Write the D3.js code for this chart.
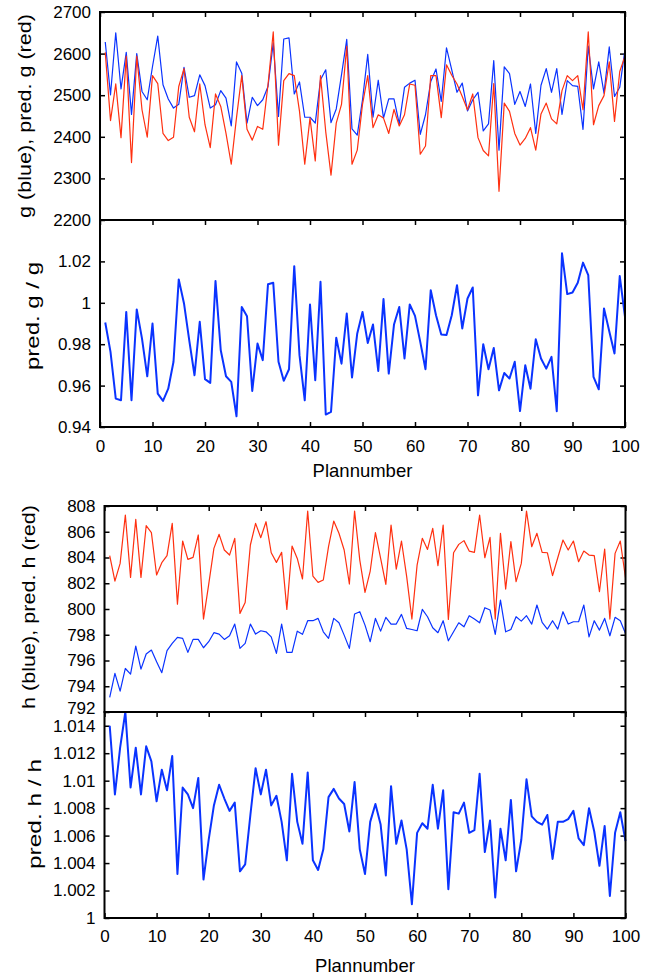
<html>
<head>
<script src="https://d3js.org/d3.v7.min.js"></script>
<style>
    body {
        margin: 0;
        background-color: white;
        font-family: Arial, "Liberation Sans", Helvetica, sans-serif;
    }
    .tick text { font-size: 17px; fill: black; }
    .tick line { stroke: black; stroke-width: 1.5; }
    .title { font-size: 18.5px; fill: black; }
    .ytitle { font-size: 19px; fill: black; }
</style>
</head>
<body>
<div id="chart"></div>
<script>
// plan numbers on the x axis
var plans = d3.range(1, 101);
var xTicks = [0, 10, 20, 30, 40, 50, 60, 70, 80, 90, 100];

// g (blue) and pred. g (red)
var gObs = [2628, 2501, 2650, 2515, 2603, 2454, 2600, 2509, 2489, 2569,
    2642, 2525, 2491, 2469, 2478, 2567, 2495, 2499, 2549, 2523,
    2469, 2477, 2511, 2493, 2426, 2580, 2553, 2433, 2495, 2475,
    2489, 2521, 2626, 2449, 2635, 2638, 2503, 2532, 2447, 2447,
    2433, 2537, 2561, 2434, 2467, 2549, 2634, 2419, 2404, 2489,
    2598, 2447, 2536, 2445, 2491, 2491, 2431, 2519, 2529, 2536,
    2406, 2453, 2533, 2563, 2485, 2614, 2561, 2507, 2529, 2462,
    2489, 2507, 2414, 2431, 2583, 2368, 2568, 2552, 2478, 2509,
    2473, 2527, 2408, 2524, 2564, 2507, 2564, 2454, 2535, 2523,
    2521, 2418, 2618, 2515, 2580, 2505, 2616, 2497, 2519, 2610];
var gPred = [2603, 2439, 2527, 2398, 2594, 2338, 2594, 2465, 2399, 2547,
    2528, 2408, 2391, 2399, 2521, 2564, 2447, 2412, 2527, 2429,
    2374, 2503, 2473, 2408, 2334, 2446, 2547, 2418, 2392, 2425,
    2418, 2525, 2652, 2380, 2535, 2552, 2547, 2461, 2334, 2445,
    2342, 2547, 2412, 2308, 2433, 2478, 2618, 2334, 2368, 2478,
    2547, 2422, 2453, 2445, 2408, 2466, 2426, 2453, 2527, 2524,
    2358, 2378, 2547, 2547, 2446, 2573, 2548, 2527, 2497, 2465,
    2503, 2398, 2367, 2354, 2528, 2269, 2481, 2461, 2408, 2380,
    2396, 2422, 2368, 2455, 2481, 2443, 2431, 2511, 2547, 2535,
    2547, 2465, 2652, 2429, 2475, 2499, 2580, 2437, 2557, 2594];
var gRatio = [0.9905, 0.9763, 0.9537, 0.9529, 0.9956, 0.9529, 0.9968, 0.9827, 0.9645, 0.9900,
    0.9561, 0.9526, 0.9585, 0.9715, 1.0113, 0.9997, 0.9819, 0.9650, 0.9908, 0.9631,
    0.9613, 1.0105, 0.9771, 0.9645, 0.9618, 0.9452, 0.9980, 0.9935, 0.9574, 0.9803,
    0.9723, 1.0090, 1.0097, 0.9715, 0.9623, 0.9679, 1.0177, 0.9747, 0.9529, 0.9992,
    0.9626, 1.0102, 0.9460, 0.9473, 0.9831, 0.9706, 0.9948, 0.9639, 0.9852, 0.9956,
    0.9806, 0.9895, 0.9671, 1.0018, 0.9658, 0.9895, 0.9980, 0.9731, 0.9992, 0.9937,
    0.9811, 0.9679, 1.0061, 0.9940, 0.9847, 0.9844, 0.9940, 1.0085, 0.9876, 1.0021,
    1.0074, 0.9553, 0.9800, 0.9679, 0.9782, 0.9577, 0.9661, 0.9634, 0.9715, 0.9477,
    0.9698, 0.9585, 0.9824, 0.9731, 0.9682, 0.9739, 0.9476, 1.0239, 1.0042, 1.0050,
    1.0097, 1.0194, 1.0134, 0.9642, 0.9582, 0.9973, 0.9863, 0.9755, 1.0129, 0.9932];

// h (blue) and pred. h (red)
var hObs = [793.13, 795.00, 793.62, 795.38, 794.94, 797.12, 795.33, 796.50, 796.81, 795.90,
    795.05, 796.76, 797.33, 797.79, 797.72, 796.63, 797.64, 797.64, 796.99, 797.46,
    798.16, 798.05, 797.64, 797.92, 798.83, 796.94, 797.33, 798.83, 798.05, 798.31,
    798.23, 797.84, 796.55, 798.83, 796.63, 796.63, 798.28, 798.03, 799.09, 799.09,
    799.27, 798.23, 797.72, 799.27, 798.93, 797.97, 796.94, 799.61, 799.79, 798.75,
    797.46, 799.27, 798.28, 799.35, 798.83, 798.83, 799.58, 798.49, 798.41, 798.31,
    799.97, 799.40, 798.54, 798.16, 799.09, 797.53, 798.23, 798.93, 798.62, 799.48,
    799.22, 798.93, 800.10, 799.92, 798.03, 800.69, 798.23, 798.41, 799.40, 799.06,
    799.48, 798.83, 800.31, 798.96, 798.44, 799.09, 798.44, 799.79, 798.83, 799.01,
    799.01, 800.31, 797.84, 799.09, 798.36, 799.27, 797.92, 799.35, 799.09, 798.10];
var hPred = [804.14, 802.17, 803.54, 807.30, 802.46, 806.96, 802.46, 806.47, 805.93, 802.64,
    803.60, 804.14, 806.65, 800.38, 805.28, 803.85, 804.01, 805.75, 799.22, 801.91,
    804.71, 805.80, 804.58, 804.19, 805.49, 799.66, 800.51, 804.97, 806.65, 805.54,
    806.78, 804.37, 803.62, 804.40, 799.97, 804.89, 803.93, 802.33, 807.61, 802.56,
    802.07, 802.25, 804.84, 806.83, 805.88, 804.58, 801.94, 807.61, 803.80, 801.29,
    802.95, 805.93, 803.93, 801.91, 806.52, 803.10, 805.28, 802.51, 799.22, 803.41,
    805.49, 804.63, 806.26, 803.36, 806.52, 799.19, 804.37, 805.02, 805.31, 804.50,
    804.40, 807.30, 803.98, 805.56, 799.22, 805.88, 801.55, 805.23, 802.12, 803.54,
    807.61, 804.84, 805.88, 804.40, 804.37, 802.59, 803.98, 805.36, 804.58, 805.28,
    803.67, 804.50, 804.19, 804.14, 801.34, 804.66, 799.22, 804.32, 805.28, 802.43];
var hRatio = [1.0140, 1.0090, 1.0124, 1.0150, 1.0095, 1.0124, 1.0090, 1.0125, 1.0114, 1.0085,
    1.0108, 1.0093, 1.0118, 1.0032, 1.0095, 1.0090, 1.0080, 1.0102, 1.0028, 1.0057,
    1.0082, 1.0097, 1.0087, 1.0078, 1.0084, 1.0034, 1.0039, 1.0075, 1.0109, 1.0090,
    1.0108, 1.0082, 1.0089, 1.0070, 1.0042, 1.0105, 1.0070, 1.0054, 1.0106, 1.0042,
    1.0035, 1.0050, 1.0088, 1.0094, 1.0087, 1.0083, 1.0063, 1.0099, 1.0050, 1.0032,
    1.0070, 1.0083, 1.0068, 1.0031, 1.0096, 1.0054, 1.0071, 1.0050, 1.0010, 1.0062,
    1.0069, 1.0065, 1.0097, 1.0065, 1.0093, 1.0021, 1.0077, 1.0076, 1.0084, 1.0062,
    1.0064, 1.0105, 1.0048, 1.0071, 1.0015, 1.0065, 1.0042, 1.0086, 1.0034, 1.0057,
    1.0101, 1.0074, 1.0070, 1.0068, 1.0075, 1.0043, 1.0070, 1.0070, 1.0072, 1.0078,
    1.0058, 1.0053, 1.0080, 1.0063, 1.0038, 1.0067, 1.0016, 1.0062, 1.0077, 1.0056];

// y tick labels
var gTicks = [2200, 2300, 2400, 2500, 2600, 2700];
var gRatioTicks = [0.94, 0.96, 0.98, 1, 1.02];
var hTicks = [792, 794, 796, 798, 800, 802, 804, 806, 808];
var hRatioTicks = [1, 1.002, 1.004, 1.006, 1.008, 1.01, 1.012, 1.014];

var blue = "#0a33ff", red = "#ff3010";

var svg = d3.select("#chart").append("svg")
    .attr("width", 656)
    .attr("height", 977);

function panel(o) {
    var x = d3.scaleLinear().domain([0, 100]).range([o.left, o.right]);
    var y = d3.scaleLinear().domain(o.domain).range([o.bottom, o.top]);
    var g = svg.append("g");

    var yAxis = g.append("g")
        .attr("transform", "translate(" + o.left + ",0)")
        .call(d3.axisLeft(y).tickValues(o.yTicks).tickSize(-5).tickPadding(9)
            .tickFormat(function (d) { return String(+d.toFixed(3)); }));
    // lowest label of the upper panel sits right on the joint, nudge it up a bit
    if (o.liftFirst) {
        yAxis.selectAll(".tick text").filter(function (d) { return d === o.yTicks[0]; })
            .attr("dy", "0.1em");
    }
    g.append("g")
        .attr("transform", "translate(" + o.right + ",0)")
        .call(d3.axisRight(y).tickValues(o.yTicks).tickSize(-5).tickFormat(""));
    g.append("g")
        .attr("transform", "translate(0," + o.top + ")")
        .call(d3.axisTop(x).tickValues(xTicks).tickSize(-5).tickFormat(""));
    if (o.xLabels) {
        g.append("g")
            .attr("transform", "translate(0," + o.bottom + ")")
            .call(d3.axisBottom(x).tickValues(xTicks).tickSize(-5).tickPadding(o.xPad));
        g.append("text")
            .attr("class", "title")
            .attr("x", (o.left + o.right) / 2)
            .attr("y", o.bottom + o.xTitle)
            .attr("text-anchor", "middle")
            .text("Plannumber");
    }
    g.selectAll(".domain").remove();

    var line = d3.line()
        .x(function (d, i) { return x(plans[i]); })
        .y(function (d) { return y(d); });

    o.series.forEach(function (s) {
        g.append("path")
            .datum(s.values)
            .attr("fill", "none")
            .attr("stroke", s.color)
            .attr("stroke-width", o.lineWidth)
            .attr("stroke-linejoin", "round")
            .attr("d", line);
    });

    g.append("rect")
        .attr("x", o.left)
        .attr("y", o.top)
        .attr("width", o.right - o.left)
        .attr("height", o.bottom - o.top)
        .attr("fill", "none")
        .attr("stroke", "black")
        .attr("stroke-width", 2);

    g.append("text")
        .attr("class", "ytitle")
        .attr("transform", "translate(" + o.titleX + "," + o.titleY + ") rotate(-90)")
        .attr("text-anchor", "middle")
        .attr("textLength", o.titleLen)
        .attr("lengthAdjust", "spacingAndGlyphs")
        .text(o.yTitle);
}

panel({ left: 100, right: 625, top: 12, bottom: 220, domain: [2200, 2700], yTicks: gTicks,
    series: [{ values: gObs, color: blue }, { values: gPred, color: red }],
    lineWidth: 1.2, yTitle: "g (blue), pred. g (red)", titleX: 31, titleY: 116, titleLen: 204 });
panel({ left: 100, right: 625, top: 220, bottom: 427, domain: [0.94, 1.04], yTicks: gRatioTicks,
    series: [{ values: gRatio, color: blue }],
    lineWidth: 2, yTitle: "pred. g / g", titleX: 39, titleY: 316, titleLen: 108,
    xLabels: true, xPad: 13, xTitle: 50 });
panel({ left: 104.5, right: 625.5, top: 506, bottom: 712, domain: [792, 808], yTicks: hTicks,
    series: [{ values: hObs, color: blue }, { values: hPred, color: red }],
    lineWidth: 1.2, yTitle: "h (blue), pred. h (red)", titleX: 35, titleY: 607, titleLen: 204,
    liftFirst: true });
panel({ left: 104.5, right: 625.5, top: 712, bottom: 918, domain: [1, 1.015], yTicks: hRatioTicks,
    series: [{ values: hRatio, color: blue }],
    lineWidth: 2, yTitle: "pred. h / h", titleX: 41, titleY: 814, titleLen: 110,
    xLabels: true, xPad: 12, xTitle: 53.7 });
</script>
</body>
</html>
